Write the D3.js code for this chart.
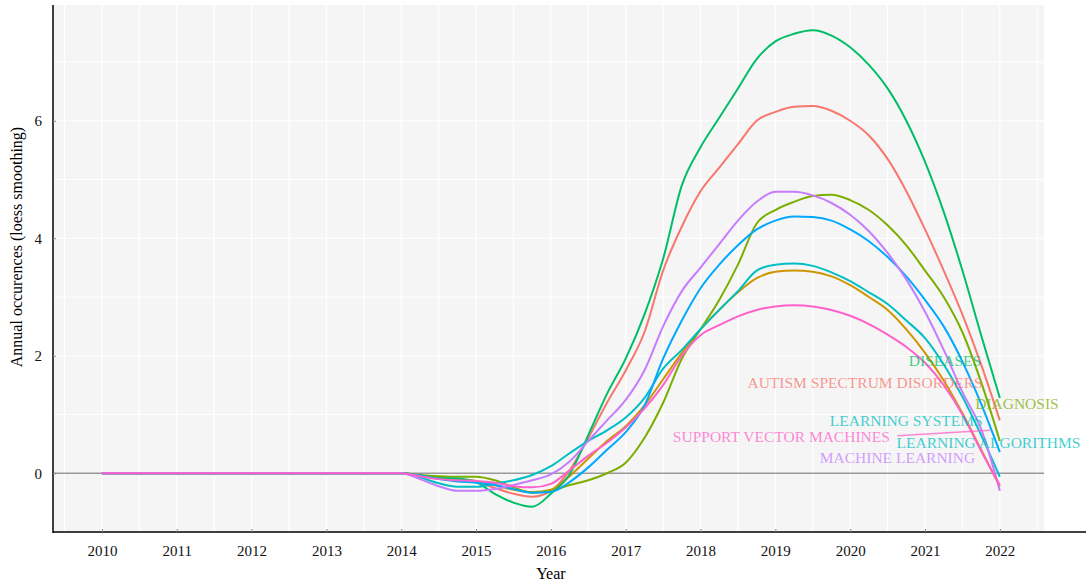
<!DOCTYPE html>
<meta charset="utf-8">
<head>
<title>Annual occurences</title>
<script src="https://d3js.org/d3.v7.min.js"></script>
<style>
body { margin: 0; background: #fff; }
.axis text { font: 15px "Liberation Serif", serif; fill: #111; }
.axis path { stroke: #000; stroke-width: 1.5px; }
.axis line { stroke: #888; }
.lbl { font: 15.5px "Liberation Serif", serif; }
</style>
</head>
<body>
<script>

// sample years (flat until 2014, then quarterly)
var years = [2010, 2011, 2012, 2013, 2014, 2014.25, 2014.5, 2014.75, 2015, 2015.25, 2015.5, 2015.75,
  2016, 2016.25, 2016.5, 2016.75, 2017, 2017.25, 2017.5, 2017.75, 2018, 2018.25, 2018.5, 2018.75,
  2019, 2019.25, 2019.5, 2019.75, 2020, 2020.25, 2020.5, 2020.75, 2021, 2021.25, 2021.5, 2021.75, 2022];

var keywords = ["AUTISM SPECTRUM DISORDERS", "CLASSIFICATION", "DIAGNOSIS", "DISEASES",
  "LEARNING ALGORITHMS", "LEARNING SYSTEMS", "MACHINE LEARNING", "SUPPORT VECTOR MACHINES"];

var autism = [0, 0, 0, 0, 0, -0.04, -0.08, -0.12, -0.15, -0.25, -0.35, -0.4,
  -0.3, 0.05, 0.6, 1.2, 1.75, 2.4, 3.45, 4.2, 4.8, 5.2, 5.6, 6.0,
  6.15, 6.24, 6.25, 6.17, 6.0, 5.75, 5.35, 4.8, 4.15, 3.45, 2.7, 1.85, 0.9];
var classification = [0, 0, 0, 0, 0, -0.04, -0.08, -0.11, -0.13, -0.2, -0.28, -0.32,
  -0.28, -0.05, 0.25, 0.55, 0.8, 1.15, 1.6, 2.05, 2.45, 2.78, 3.08, 3.32,
  3.43, 3.45, 3.43, 3.35, 3.2, 3.0, 2.78, 2.45, 2.05, 1.58, 1.02, 0.4, -0.23];
var diagnosis = [0, 0, 0, 0, 0, -0.03, -0.05, -0.06, -0.06, -0.12, -0.24, -0.33,
  -0.3, -0.2, -0.12, 0.0, 0.18, 0.6, 1.2, 1.95, 2.45, 2.95, 3.55, 4.25,
  4.48, 4.62, 4.72, 4.74, 4.65, 4.48, 4.22, 3.88, 3.45, 3.0, 2.4, 1.55, 0.55];
var diseases = [0, 0, 0, 0, 0, -0.04, -0.08, -0.09, -0.15, -0.35, -0.5, -0.57,
  -0.35, -0.02, 0.65, 1.35, 1.95, 2.7, 3.65, 4.9, 5.55, 6.05, 6.55, 7.05,
  7.35, 7.48, 7.54, 7.45, 7.25, 6.95, 6.55, 6.0, 5.3, 4.45, 3.45, 2.35, 1.28];
var algorithms = [0, 0, 0, 0, 0, -0.07, -0.17, -0.23, -0.23, -0.18, -0.12, -0.03,
  0.12, 0.34, 0.55, 0.73, 0.95, 1.28, 1.78, 2.1, 2.45, 2.78, 3.1, 3.45,
  3.55, 3.57, 3.53, 3.42, 3.27, 3.08, 2.88, 2.6, 2.3, 1.85, 1.3, 0.65, -0.06];
var systems = [0, 0, 0, 0, 0, -0.04, -0.1, -0.14, -0.16, -0.2, -0.27, -0.33,
  -0.32, -0.15, 0.1, 0.4, 0.7, 1.15, 1.95, 2.6, 3.15, 3.55, 3.88, 4.15,
  4.3, 4.37, 4.36, 4.3, 4.15, 3.95, 3.68, 3.35, 2.95, 2.5, 1.9, 1.18, 0.36];
var machine = [0, 0, 0, 0, 0, -0.1, -0.22, -0.3, -0.3, -0.27, -0.2, -0.12,
  -0.02, 0.2, 0.55, 0.9, 1.25, 1.75, 2.5, 3.1, 3.5, 3.9, 4.3, 4.62,
  4.79, 4.79, 4.73, 4.6, 4.4, 4.12, 3.75, 3.3, 2.75, 2.1, 1.38, 0.75, -0.3];
var svm = [0, 0, 0, 0, 0, -0.05, -0.1, -0.12, -0.13, -0.16, -0.22, -0.24,
  -0.18, 0.05, 0.3, 0.52, 0.78, 1.1, 1.5, 2.0, 2.35, 2.52, 2.67, 2.78,
  2.84, 2.86, 2.84, 2.78, 2.68, 2.54, 2.36, 2.15, 1.88, 1.5, 1.0, 0.38, -0.2];

var seriesValues = [autism, classification, diagnosis, diseases, algorithms, systems, machine, svm];

var xTicks = [2010, 2011, 2012, 2013, 2014, 2015, 2016, 2017, 2018, 2019, 2020, 2021, 2022];
var yTicks = [0, 2, 4, 6];

// text labels: keyword, year, value, anchor side
var labelText = ["DISEASES", "AUTISM SPECTRUM DISORDERS", "DIAGNOSIS", "LEARNING SYSTEMS",
  "SUPPORT VECTOR MACHINES", "LEARNING ALGORITHMS", "MACHINE LEARNING"];
var labelYear = [2021.75, 2021.77, 2021.67, 2021.77, 2020.53, 2020.62, 2021.67];
var labelValue = [1.91, 1.55, 1.18, 0.89, 0.63, 0.53, 0.27];
var labelAnchor = ["end", "end", "start", "end", "end", "start", "end"];

var colors = ["#F8766D", "#CD9600", "#7CAE00", "#00BE67", "#00BFC4", "#00A9FF", "#C77CFF", "#FF61CC"];
var labelColors = {"DISEASES": "#00BE67", "AUTISM SPECTRUM DISORDERS": "#F8766D", "DIAGNOSIS": "#7CAE00",
  "LEARNING SYSTEMS": "#00BFC4", "SUPPORT VECTOR MACHINES": "#FF61CC", "LEARNING ALGORITHMS": "#00BFC4",
  "MACHINE LEARNING": "#C77CFF"};

var W = 1086, H = 584;
var panel = {left: 54, right: 1044, top: 5, bottom: 532};

var x = d3.scaleLinear().domain([2009.36, 2022.59]).range([panel.left, panel.right]);
var y = d3.scaleLinear().domain([-1.0, 7.97]).range([panel.bottom, panel.top]);

var svg = d3.select("body").append("svg")
    .attr("width", W)
    .attr("height", H);

// panel background
svg.append("rect")
    .attr("x", panel.left).attr("y", panel.top)
    .attr("width", panel.right - panel.left)
    .attr("height", panel.bottom - panel.top)
    .attr("fill", "#f5f5f5");

// grid
var vgrid = d3.range(2009.5, 2022.6, 0.5);
svg.append("g").selectAll("line")
    .data(vgrid).enter().append("line")
    .attr("x1", function(d) { return x(d); }).attr("x2", function(d) { return x(d); })
    .attr("y1", panel.top).attr("y2", panel.bottom)
    .attr("stroke", "#fff").attr("stroke-width", 1.2);
svg.append("g").selectAll("line")
    .data(d3.range(1, 8)).enter().append("line")
    .attr("x1", panel.left).attr("x2", panel.right)
    .attr("y1", function(d) { return y(d); }).attr("y2", function(d) { return y(d); })
    .attr("stroke", "#fff").attr("stroke-width", 1.2);

// zero line
svg.append("line")
    .attr("x1", panel.left).attr("x2", panel.right)
    .attr("y1", y(0)).attr("y2", y(0))
    .attr("stroke", "#999").attr("stroke-width", 1.3);

// lines
var line = d3.line()
    .x(function(d) { return x(d[0]); })
    .y(function(d) { return y(d[1]); })
    .curve(d3.curveMonotoneX);

seriesValues.forEach(function(vals, i) {
  svg.append("path")
      .datum(years.map(function(yr, j) { return [yr, vals[j]]; }))
      .attr("fill", "none")
      .attr("stroke", colors[i])
      .attr("stroke-width", 2)
      .attr("stroke-linejoin", "round")
      .attr("d", line);
});

// axes
svg.append("g")
    .attr("class", "axis")
    .attr("transform", "translate(0," + panel.bottom + ")")
    .call(d3.axisBottom(x).tickValues(xTicks).tickFormat(d3.format("d")).tickSize(-3).tickPadding(13))
    .call(function(g) { g.select(".domain").attr("d", "M" + (panel.left - 1) + ",0H" + W); });

svg.append("g")
    .attr("class", "axis")
    .attr("transform", "translate(" + (panel.left - 1) + ",0)")
    .call(d3.axisLeft(y).tickValues(yTicks).tickSize(-3).tickPadding(11))
    .call(function(g) { g.select(".domain").attr("d", "M0," + panel.top + "V" + (panel.bottom + 1)); });

// axis titles
svg.append("text")
    .attr("x", x(2016))
    .attr("y", 579)
    .attr("text-anchor", "middle")
    .style("font", "16px 'Liberation Serif', serif")
    .text("Year");

svg.append("text")
    .attr("transform", "rotate(-90)")
    .attr("x", -247)
    .attr("y", 22)
    .attr("text-anchor", "middle")
    .style("font", "16px 'Liberation Serif', serif")
    .text("Annual occurences (loess smoothing)");

// svm leader segment
svg.append("line")
    .attr("x1", x(2020.63)).attr("y1", y(0.64))
    .attr("x2", x(2021.87)).attr("y2", y(0.73))
    .attr("stroke", "#FF61CC").attr("stroke-opacity", 0.75).attr("stroke-width", 1.5);

// labels
labelText.forEach(function(t, i) {
  svg.append("text")
      .attr("class", "lbl")
      .attr("x", x(labelYear[i]))
      .attr("y", y(labelValue[i]))
      .attr("dy", "0.35em")
      .attr("text-anchor", labelAnchor[i])
      .attr("fill", labelColors[t])
      .attr("fill-opacity", 0.75)
      .text(t);
});

</script>
</body>
